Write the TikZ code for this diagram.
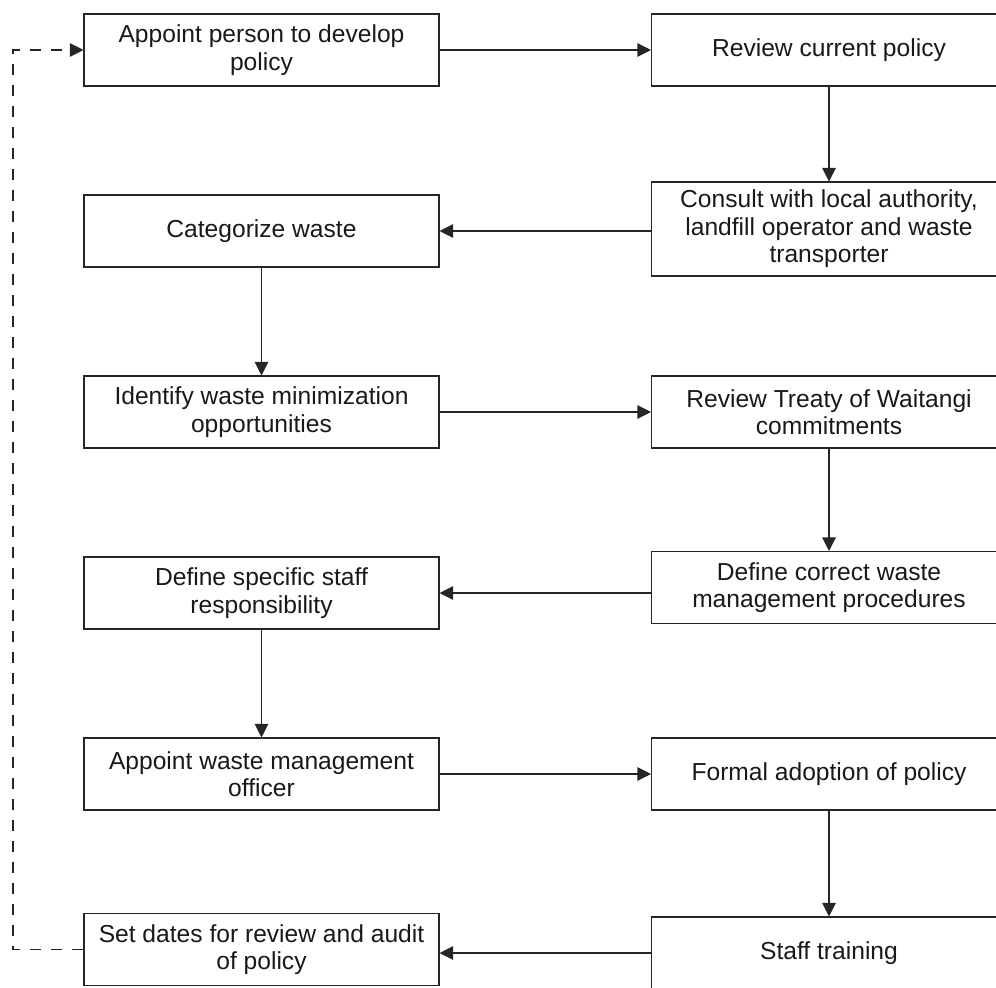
\documentclass[tikz,border=0pt]{standalone}
\usepackage{fontspec}
\setmainfont{Liberation Sans}
\usetikzlibrary{arrows.meta}
\begin{document}
\begin{tikzpicture}[x=0.2mm,y=-0.2mm]
		\tikzstyle{etape}=[minimum width=71mm, minimum height=14.4mm, draw=black!85, line width=0.6pt, align=center, text=black!90, font=\fontsize{14}{15.6}\selectfont]
		\tikzstyle{fleche}=[draw=black!85, line width=0.6pt, -{Triangle[length=2.7mm,width=2.7mm]}]
		\useasboundingbox (0,0) rectangle (996,987);
		\clip (0,0) rectangle (996,987);
		\node[etape] (appoint) at (261.5,50) {Appoint person to develop\\policy}; % gauche
		\node[etape] (review) at (829,50) {Review current policy}; % droite
		\node[etape, minimum height=18.8mm] (consult) at (829,229) {Consult with local authority,\\landfill operator and waste\\transporter};
		\node[etape] (categ) at (261.5,231) {Categorize waste};
		\node[etape] (identify) at (261.5,412) {Identify waste minimization\\opportunities};
		\node[etape] (treaty) at (829,412) {Review Treaty of Waitangi\\commitments};
		\node[etape] (procedures) at (829,587.5) {Define correct waste\\management procedures};
		\node[etape] (staffresp) at (261.5,593) {Define specific staff\\responsibility};
		\node[etape] (officer) at (261.5,774) {Appoint waste management\\officer};
		\node[etape] (adoption) at (829,774) {Formal adoption of policy};
		\node[etape] (training) at (829,953) {Staff training};
		\node[etape] (dates) at (261.5,949.5) {Set dates for review and audit\\of policy};
		\coordinate (boucle) at (13,0); % retour
		\draw[fleche] (appoint) -- (review);
		\draw[fleche] (review) -- (consult);
		\draw[fleche] (consult.west |- categ.east) -- (categ.east);
		\draw[fleche] (categ) -- (identify);
		\draw[fleche] (identify) -- (treaty);
		\draw[fleche] (treaty) -- (procedures);
		\draw[fleche] (procedures.west |- staffresp.east) -- (staffresp.east);
		\draw[fleche] (staffresp) -- (officer);
		\draw[fleche] (officer) -- (adoption);
		\draw[fleche] (adoption) -- (training);
		\draw[fleche] (training.west) -- (dates.east |- training.west);
		\draw[fleche, dash pattern=on 2.2mm off 2mm] (dates.west) -- (dates.west -| boucle) |- (appoint.west);
	\end{tikzpicture}
\end{document}
